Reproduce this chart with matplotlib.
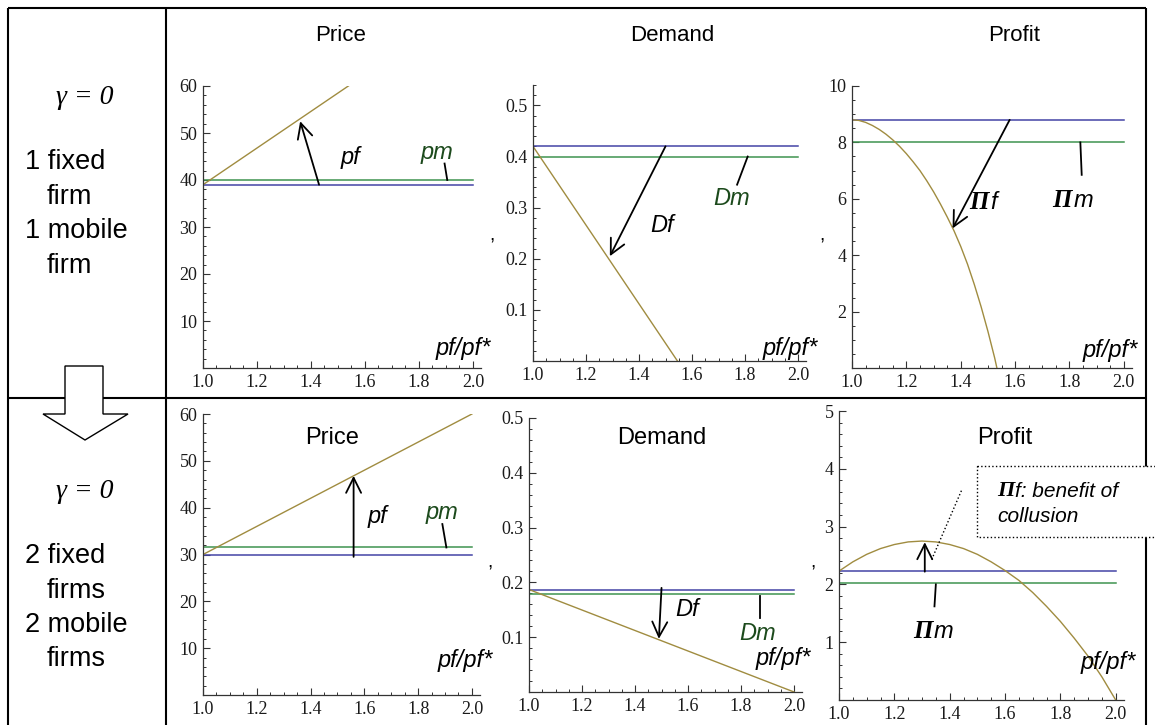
import matplotlib
matplotlib.use("Agg")
import matplotlib.pyplot as plt
from matplotlib.patches import Polygon, Rectangle
from matplotlib.ticker import MultipleLocator

W, H = 1155, 725

# ---- values ----
x_line = [1.0, 2.0]
x_ticks = [1.0, 1.2, 1.4, 1.6, 1.8, 2.0]

# row 1: 1 fixed firm, 1 mobile firm
pf_1 = [39.0, 78.0]
pm_1 = 40.0
p0_1 = 39.0
df_x_1 = [1.0, 1.545]
df_1 = [0.42, 0.0]
dm_1 = 0.40
d0_1 = 0.42
prof_x_1 = [1.0, 1.025, 1.05, 1.075, 1.1, 1.125, 1.15, 1.175, 1.2, 1.225, 1.25,
            1.275, 1.3, 1.325, 1.35, 1.375, 1.4, 1.425, 1.45, 1.475, 1.5,
            1.525, 1.533]
prof_f_1 = [8.8, 8.78, 8.71, 8.6, 8.46, 8.29, 8.09, 7.86, 7.6, 7.31, 7.0,
            6.64, 6.25, 5.82, 5.36, 4.87, 4.31, 3.68, 2.96, 2.17, 1.30,
            0.35, 0.0]
prof_m_1 = 8.0
prof0_1 = 8.8

# row 2: 2 fixed firms, 2 mobile firms
pf_2 = [30.0, 60.0]
pm_2 = 31.5
p0_2 = 30.0
df_2 = [0.187, 0.0]
dm_2 = 0.178
d0_2 = 0.187
prof_x_2 = [1.0, 1.05, 1.1, 1.15, 1.2, 1.25, 1.3, 1.35, 1.4, 1.45, 1.5,
            1.55, 1.6, 1.65, 1.7, 1.75, 1.8, 1.85, 1.9, 1.95, 2.0]
prof_f_2 = [2.23, 2.39, 2.52, 2.62, 2.69, 2.735, 2.75, 2.735, 2.69, 2.62, 2.52,
            2.39, 2.24, 2.07, 1.86, 1.62, 1.36, 1.07, 0.76, 0.40, 0.0]
prof_m_2 = 2.03
prof0_2 = 2.23

C_BLUE = "#4444a6"
C_GREEN = "#3f9350"
C_OLIVE = "#a08c40"
C_DKGREEN = "#1c4a1c"
SANS = "Liberation Sans"

plt.rcParams["font.family"] = "Liberation Serif"

fig = plt.figure(figsize=(W / 100, H / 100), dpi=100)


def panel(l, t, r, b, ytop, yticks, yminor):
    ax = fig.add_axes([l / W, 1 - b / H, (r - l) / W, (b - t) / H])
    ax.set_xlim(1.0, 2.03)
    ax.set_ylim(0, ytop)
    ax.patch.set_alpha(0)
    for s in ("top", "right"):
        ax.spines[s].set_visible(False)
    for s in ("left", "bottom"):
        ax.spines[s].set_linewidth(0.9)
        ax.spines[s].set_color("0.2")
    ax.set_xticks(x_ticks)
    ax.set_xticklabels([f"{v:.1f}" for v in x_ticks])
    ax.xaxis.set_minor_locator(MultipleLocator(0.05))
    ax.set_yticks(yticks)
    ax.yaxis.set_minor_locator(MultipleLocator(yminor))
    ax.tick_params(which="major", direction="in", length=5, width=0.8,
                   color="0.2", labelsize=13, pad=4, labelcolor="0.1")
    ax.tick_params(which="minor", direction="in", length=2.5, width=0.7,
                   color="0.2")
    return ax


def arrow(ax, tail, head):
    ax.annotate("", xy=head, xytext=tail,
                arrowprops=dict(arrowstyle="->,head_length=0.9,head_width=0.45",
                                color="k", lw=1.3, shrinkA=0, shrinkB=0,
                                mutation_scale=12))


def tick_line(ax, p0, p1):
    ax.plot([p0[0], p1[0]], [p0[1], p1[1]], color="k", lw=1.3)


# ---- row 1 ----
ax = panel(203, 86, 481, 368, 60, [10, 20, 30, 40, 50, 60], 2)
ax.plot(x_line, [p0_1, p0_1], color=C_BLUE, lw=1.1)
ax.plot(x_line, [pm_1, pm_1], color=C_GREEN, lw=1.1)
ax.plot(x_line, pf_1, color=C_OLIVE, lw=1.0)
arrow(ax, (1.43, 39.0), (1.36, 52.5))
tick_line(ax, (1.895, 43.5), (1.905, 40.0))

ax = panel(533, 85, 806, 361, 0.54, [0.1, 0.2, 0.3, 0.4, 0.5], 0.02)
ax.plot(x_line, [d0_1, d0_1], color=C_BLUE, lw=1.1)
ax.plot(x_line, [dm_1, dm_1], color=C_GREEN, lw=1.1)
ax.plot(df_x_1, df_1, color=C_OLIVE, lw=1.0)
arrow(ax, (1.5, 0.42), (1.29, 0.205))
tick_line(ax, (1.81, 0.40), (1.77, 0.345))

ax = panel(852, 86, 1132, 368, 10, [2, 4, 6, 8, 10], 0.5)
ax.plot(x_line, [prof0_1, prof0_1], color=C_BLUE, lw=1.1)
ax.plot(x_line, [prof_m_1, prof_m_1], color=C_GREEN, lw=1.1)
ax.plot(prof_x_1, prof_f_1, color=C_OLIVE, lw=1.0)
arrow(ax, (1.58, 8.8), (1.37, 4.95))
tick_line(ax, (1.84, 8.0), (1.845, 6.85))

# ---- row 2 ----
ax = panel(203, 414, 480, 695, 60, [10, 20, 30, 40, 50, 60], 2)
ax.plot(x_line, [p0_2, p0_2], color=C_BLUE, lw=1.1)
ax.plot(x_line, [pm_2, pm_2], color=C_GREEN, lw=1.1)
ax.plot(x_line, pf_2, color=C_OLIVE, lw=1.0)
arrow(ax, (1.56, 29.5), (1.56, 46.8))
tick_line(ax, (1.89, 36.5), (1.905, 31.5))

ax = panel(529, 418, 802, 692, 0.5, [0.1, 0.2, 0.3, 0.4, 0.5], 0.02)
ax.plot(x_line, [d0_2, d0_2], color=C_BLUE, lw=1.1)
ax.plot(x_line, [dm_2, dm_2], color=C_GREEN, lw=1.1)
ax.plot(x_line, df_2, color=C_OLIVE, lw=1.0)
arrow(ax, (1.5, 0.19), (1.49, 0.097))
tick_line(ax, (1.87, 0.175), (1.87, 0.135))

ax = panel(839, 411, 1124, 700, 5, [1, 2, 3, 4, 5], 0.2)
ax.plot(x_line, [prof0_2, prof0_2], color=C_BLUE, lw=1.1)
ax.plot(x_line, [prof_m_2, prof_m_2], color=C_GREEN, lw=1.1)
ax.plot(prof_x_2, prof_f_2, color=C_OLIVE, lw=1.0)
arrow(ax, (1.31, 2.22), (1.31, 2.73))
ax.plot([1.335, 1.445], [2.43, 3.65], color="k", lw=1.0, ls=":")
tick_line(ax, (1.35, 2.0), (1.345, 1.62))

# ---- overlay in pixel coordinates: table, labels ----
ov = fig.add_axes([0, 0, 1, 1], zorder=10)
ov.set_xlim(0, W)
ov.set_ylim(H, 0)
ov.axis("off")
ov.patch.set_alpha(0)

for xs, ys in [([8, 1146], [8, 8]), ([8, 8], [8, 730]), ([1146, 1146], [8, 730]),
               ([166, 166], [8, 730]), ([8, 1146], [398, 398])]:
    ov.plot(xs, ys, color="k", lw=1.5, solid_capstyle="butt")

ov.add_patch(Polygon([(65, 366), (103, 366), (103, 414), (128, 414), (85, 440),
                      (43, 414), (65, 414)], closed=True, fc="white",
                     ec="k", lw=1.0, zorder=3))
ov.add_patch(Rectangle((977, 466), 200, 71, fc="white", ec="k", lw=1.0,
                       ls=":", zorder=3))


def t(x, y, s, size=17, ha="center", style="italic", color="k", family=SANS,
      weight="normal"):
    ov.text(x, y, s, fontsize=size, ha=ha, va="center", fontstyle=style,
            color=color, family=family, fontweight=weight, zorder=5)


# headers
for x, s in [(341, "Price"), (672, "Demand"), (1014, "Profit")]:
    t(x, 35, s, size=16, style="normal")

# left column
for y0, lines in [(0, ["1 fixed", "firm", "1 mobile", "firm"]),
                  (394, ["2 fixed", "firms", "2 mobile", "firms"])]:
    t(85, 97 + y0, "γ = 0", size=20, family="Liberation Serif")
    for i, s in enumerate(lines):
        x = 25 if i % 2 == 0 else 47
        t(x, 162 + y0 + 34.5 * i, s, size=19.5, ha="left", style="normal")

# row 1 labels
t(350, 157, "pf")
t(437, 152, "pm", color=C_DKGREEN)
t(463, 348, "pf/pf*")
t(662, 225, "Df")
t(732, 198, "Dm", color=C_DKGREEN)
t(790, 348, "pf/pf*")
t(979, 202, "Π", family="Liberation Serif", weight="bold", size=18)
t(994, 202, "f")
t(1062, 200, "Π", family="Liberation Serif", weight="bold", size=18)
t(1083, 200, "m")
t(1110, 350, "pf/pf*")

# row 2 labels
t(332, 438, "Price", style="normal")
t(377, 517, "pf")
t(442, 512, "pm", color=C_DKGREEN)
t(465, 661, "pf/pf*")
t(662, 438, "Demand", style="normal")
t(687, 610, "Df")
t(758, 633, "Dm", color=C_DKGREEN)
t(783, 659, "pf/pf*")
t(1005, 438, "Profit", style="normal")
t(923, 632, "Π", family="Liberation Serif", weight="bold", size=18)
t(943, 632, "m")
t(1108, 663, "pf/pf*")
t(997, 491, "Π", family="Liberation Serif", weight="bold", size=16, ha="left")
t(1015, 491, "f: benefit of", size=15, ha="left")
t(997, 516, "collusion", size=15, ha="left")

# stray commas between the panels
for x, y in [(492, 236), (822, 236), (490, 563), (813, 563)]:
    t(x, y, ",", size=14, style="normal")

fig.savefig("out.png", dpi=100)
